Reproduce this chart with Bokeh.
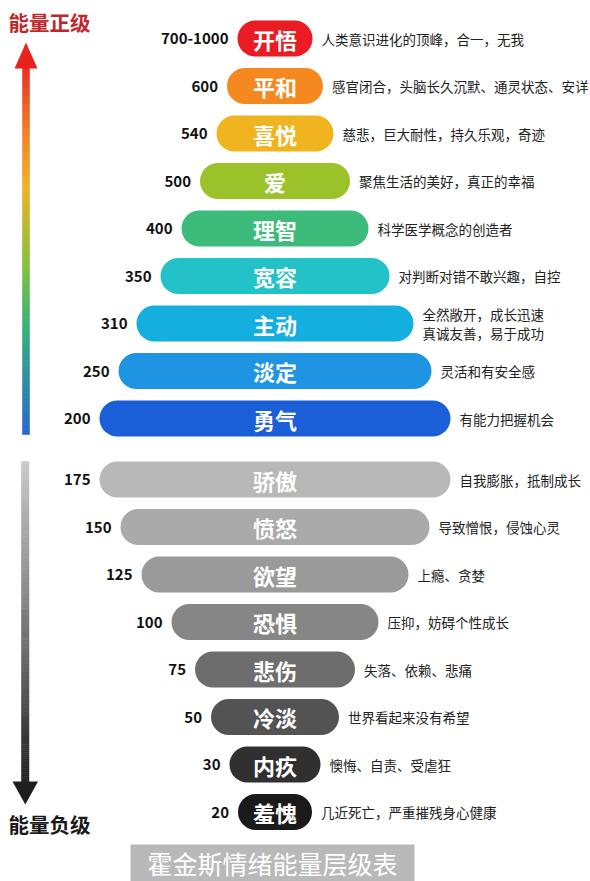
import numpy as np
from bokeh.plotting import figure
from bokeh.models import Range1d, ColumnDataSource
from bokeh.embed import file_html
from bokeh.resources import INLINE
from bokeh.core.properties import value

# ---------------- data ----------------
levels = ["700-1000", "600", "540", "500", "400", "350", "310", "250", "200",
          "175", "150", "125", "100", "75", "50", "30", "20"]
names = ["开悟", "平和", "喜悦", "爱", "理智", "宽容", "主动", "淡定", "勇气",
         "骄傲", "愤怒", "欲望", "恐惧", "悲伤", "冷淡", "内疚", "羞愧"]
descriptions = [
    "人类意识进化的顶峰，合一，无我",
    "感官闭合，头脑长久沉默、通灵状态、安详",
    "慈悲，巨大耐性，持久乐观，奇迹",
    "聚焦生活的美好，真正的幸福",
    "科学医学概念的创造者",
    "对判断对错不敢兴趣，自控",
    "全然敞开，成长迅速\n真诚友善，易于成功",
    "灵活和有安全感",
    "有能力把握机会",
    "自我膨胀，抵制成长",
    "导致憎恨，侵蚀心灵",
    "上瘾、贪婪",
    "压抑，妨碍个性成长",
    "失落、依赖、悲痛",
    "世界看起来没有希望",
    "懊悔、自责、受虐狂",
    "几近死亡，严重摧残身心健康",
]
n_positive = 9
title_top = "能量正级"
title_bottom = "能量负级"
chart_title = "霍金斯情绪能量层级表"

# ---------------- layout / style ----------------
bar_px = [75, 96, 117, 150, 187, 229, 277, 313, 351,
          351, 309, 267, 207, 160, 128, 91, 74]
colors = ["#ea1b23", "#f5891f", "#efb420", "#9cc22b", "#3dbb7a", "#22c2c8",
          "#15afdf", "#1f94e2", "#1a5ed8",
          "#b8b8b8", "#aaaaaa", "#9a9a9a", "#868686", "#6d6d6d", "#535353",
          "#303030", "#1a1a1a"]
cx = 274.5
bar_h = 36
step = 47.5
top_y = 38
neg_top_y = 479

W, H = 590, 881
FONT = value("Noto Sans CJK SC")

ys = []
for i in range(len(names)):
    if i < n_positive:
        ys.append(top_y + i * step)
    else:
        ys.append(neg_top_y + (i - n_positive) * step)
ys = np.array(ys)
half = np.array(bar_px) / 2.0
lefts = cx - half
rights = cx + half

p = figure(width=W, height=H, x_range=Range1d(0, W), y_range=Range1d(H, 0),
           toolbar_location=None, output_backend="svg", min_border=0)
p.axis.visible = False
p.grid.visible = False
p.outline_line_color = None
p.background_fill_color = "white"
p.border_fill_color = "white"

src = ColumnDataSource(dict(y=ys, left=lefts, right=rights, color=colors,
                            name=names, level=levels, desc=descriptions,
                            lx=lefts - 9, rx=rights + 9, cx=[cx] * len(names)))

p.hbar(y="y", left="left", right="right", height=bar_h, fill_color="color",
       line_color=None, border_radius=18, source=src)

p.text(x="cx", y="y", text="name", text_align="center", text_baseline="middle",
       text_font=FONT, text_font_size="22px", text_font_style="bold",
       text_color="white", source=src)
p.text(x="lx", y="y", text="level", text_align="right", text_baseline="middle",
       text_font=FONT, text_font_size="15px", text_font_style="bold",
       text_color="#111111", source=src)
p.text(x="rx", y="y", text="desc", text_align="left", text_baseline="middle",
       text_font=FONT, text_font_size="13.5px", text_color="#222222",
       text_line_height=0.95, source=src)

# ---------------- arrows ----------------
def grad(stops, y0, y1, n):
    pos = np.array([s[0] for s in stops])
    rgb = np.array([[int(s[1][k:k + 2], 16) for k in (1, 3, 5)] for s in stops], float)
    yy = np.linspace(y0, y1, n + 1)
    mids = (yy[:-1] + yy[1:]) / 2
    t = (mids - y0) / (y1 - y0)
    cols = []
    for tt in t:
        c = [np.interp(tt, pos, rgb[:, k]) for k in range(3)]
        cols.append("#%02x%02x%02x" % tuple(int(round(v)) for v in c))
    return yy[:-1], yy[1:], cols

# positive arrow
t0, t1, tc = grad([(0.0, "#e8231f"), (0.18, "#f57a22"), (0.33, "#efb020"),
                   (0.55, "#7dbf3a"), (0.72, "#2fae78"), (1.0, "#2563cf")],
                  64, 434, 185)
p.quad(left=22, right=29, top=t0, bottom=t1, fill_color=tc, line_color=tc, line_width=0.5)
p.patch([14, 25.5, 37], [68, 42, 68], fill_color="#e8231f", line_color=None)

# negative arrow
b0, b1, bc = grad([(0.0, "#c9c9c9"), (0.5, "#7a7a7a"), (1.0, "#1e1e1e")],
                  461, 784, 160)
p.quad(left=21, right=28.5, top=b0, bottom=b1, fill_color=bc, line_color=bc, line_width=0.5)
p.patch([12, 24.8, 37.5], [781, 804, 781], fill_color="#1e1e1e", line_color=None)

p.text(x=[8], y=[21], text=[title_top], text_align="left", text_baseline="middle",
       text_font=FONT, text_font_size="20.5px", text_font_style="bold", text_color="#c0272d")
p.text(x=[8], y=[823], text=[title_bottom], text_align="left", text_baseline="middle",
       text_font=FONT, text_font_size="20.5px", text_font_style="bold", text_color="#1a1a1a")

# title box
p.quad(left=130, right=414, top=844, bottom=881, fill_color="#b9b9b9", line_color=None)
p.text(x=[272], y=[862], text=[chart_title], text_align="center", text_baseline="middle",
       text_font=FONT, text_font_size="25px", text_color="white")

open("out.html", "w").write(file_html(p, INLINE))
